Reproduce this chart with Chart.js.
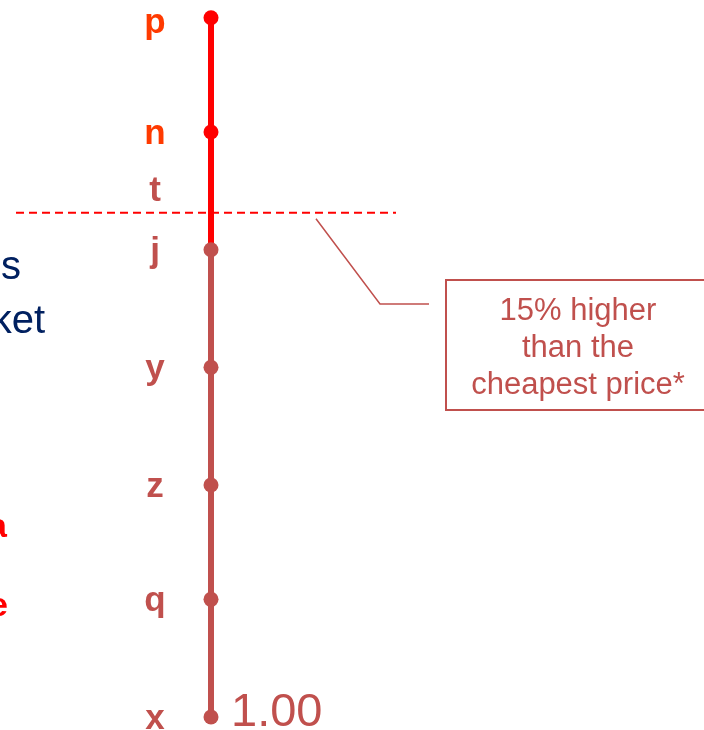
<!DOCTYPE html>
<html>
<head>
<meta charset="utf-8">
<script src="https://cdn.jsdelivr.net/npm/chart.js@4"></script>
<style>
  body { margin:0; background:#fff; }
  #wrap { width:704px; height:730px; }
</style>
</head>
<body>
<div id="wrap"><canvas id="myChart" width="704" height="730"></canvas></div>
<script>
// data
var names = ["p","n","t","j","y","z","q","x"]
var values = [1.208, 1.174, 1.157, 1.139, 1.104, 1.069, 1.035, 1.000]
var hasPoint = [true, true, false, true, true, true, true, true]
var hotCount = 2          // p, n are in the bright red part
var threshold = 1.15      // dashed line, 15% above cheapest
var baseLabel = "1.00"
var calloutLines = ["15% higher","than the","cheapest price*"]
var sideText = [
    {text:"s", right:21, y:279, color:"#002060", font:"40px 'Liberation Sans', Arial"},
    {text:"ket", right:45, y:333, color:"#002060", font:"40px 'Liberation Sans', Arial"},
    {text:"a", right:7, y:537, color:"#FF0000", font:"bold 34px 'Liberation Sans', Arial"},
    {text:"e", right:8, y:616, color:"#FF0000", font:"bold 34px 'Liberation Sans', Arial"}
]

var RED = "#FF0000"
var BROWN = "#C0504D"
var ORANGE = "#FF3A00"

var pts = []
for (let i=0;i<names.length;i++){
    pts.push({x:0, y:values[i]})
}

const overlay = {
    id: "overlay",
    afterDatasetsDraw(chart){
        const c = chart.ctx
        const ys = chart.scales.y
        const xs = chart.scales.x
        const px = xs.getPixelForValue(0)
        c.save()

        // dashed threshold line
        let ty = ys.getPixelForValue(threshold)
        c.strokeStyle = RED
        c.lineWidth = 2
        c.setLineDash([8,5])
        c.beginPath()
        c.moveTo(16, ty); c.lineTo(396, ty)
        c.stroke()
        c.setLineDash([])

        // category labels
        c.textAlign = "center"
        c.textBaseline = "alphabetic"
        c.font = "bold 35px 'Liberation Sans', Arial"
        names.forEach((n,i) => {
            c.fillStyle = i < hotCount ? ORANGE : BROWN
            let off = n=="p" ? 15 : 12
            c.fillText(n, 155, ys.getPixelForValue(values[i]) + off)
        })

        // 1.00 next to bottom point
        c.textAlign = "left"
        c.fillStyle = BROWN
        c.font = "47px 'Liberation Sans', Arial"
        c.fillText(baseLabel, px + 20, ys.getPixelForValue(values[values.length-1]) + 9)

        // callout leader + box
        c.strokeStyle = BROWN
        c.lineWidth = 1.5
        c.beginPath()
        c.moveTo(316, ty + 6); c.lineTo(380, 304); c.lineTo(429, 304)
        c.stroke()
        c.lineWidth = 2
        c.strokeRect(446, 280, 270, 130)
        c.textAlign = "center"
        c.font = "31px 'Liberation Sans', Arial"
        calloutLines.forEach((t,i) => {
            c.fillText(t, 578, 320 + i*37)
        })

        // cut-off text on the left edge
        c.textAlign = "right"
        sideText.forEach(s => {
            c.fillStyle = s.color
            c.font = s.font
            c.fillText(s.text, s.right, s.y)
        })
        c.restore()
    }
}

const ctx = document.getElementById("myChart")
var chart = new Chart(ctx, {
    type: "scatter",
    data: {
        datasets: [{
            data: pts,
            showLine: true,
            borderWidth: 6,
            pointRadius: hasPoint.map(h => h ? 7.5 : 0),
            pointHoverRadius: hasPoint.map(h => h ? 7.5 : 0),
            pointBorderWidth: 0,
            pointBackgroundColor: names.map((n,i) => i < hotCount ? RED : BROWN),
            pointBorderColor: names.map((n,i) => i < hotCount ? RED : BROWN),
            segment: {
                borderColor: s => s.p0DataIndex < 3 ? RED : BROWN
            }
        }]
    },
    options: {
        responsive: false,
        animation: false,
        layout: { padding: 0, autoPadding: false },
        plugins: { legend:{display:false}, tooltip:{enabled:false} },
        scales: {
            x: { display:false, min:-211, max:493 },
            y: { display:false, min:0.99613, max:1.21327 }
        }
    },
    plugins: [overlay]
})
</script>
</body>
</html>
